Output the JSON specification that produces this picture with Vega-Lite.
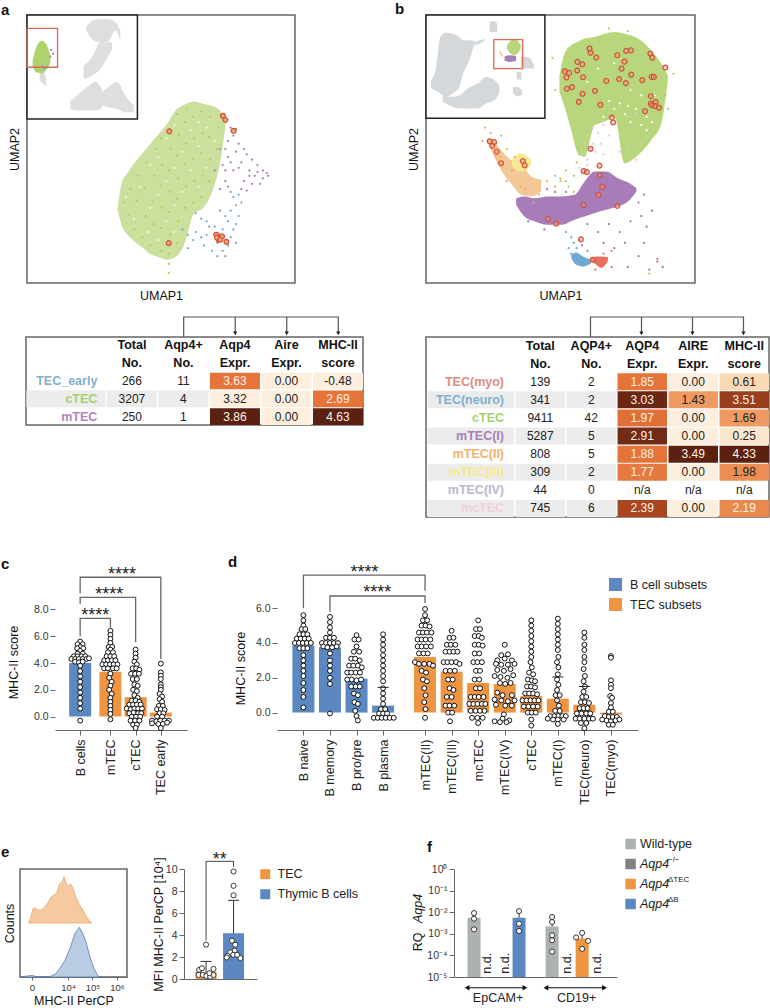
{"$schema":"https://vega.github.io/schema/vega-lite/v6.json","autosize":{"type":"none"},"padding":{"left":0,"top":15,"right":770,"bottom":993},"background":"white",
"config":{"font":"Liberation Sans","view":{"stroke":null},"axis":{"grid":false,"labelColor":"#333","titleColor":"#111","domainColor":"#666","tickColor":"#666","labelFontSize":10.5,"titleFontSize":12,"titleFontWeight":"normal"},"legend":{"labelColor":"#222","symbolStrokeWidth":0,"symbolOpacity":1}},
"datasets":{
"tA":[{"col":"Total","row":"h1","txt":"Total"},{"col":"Total","row":"h2","txt":"No."},{"col":"Pos","row":"h1","txt":"Aqp4+"},{"col":"Pos","row":"h2","txt":"No."},{"col":"Ex","row":"h1","txt":"Aqp4"},{"col":"Ex","row":"h2","txt":"Expr."},{"col":"Aire","row":"h1","txt":"Aire"},{"col":"Aire","row":"h2","txt":"Expr."},{"col":"MHC","row":"h1","txt":"MHC-II"},{"col":"MHC","row":"h2","txt":"score"},
{"col":"label","row":"TEC_early","txt":"TEC_early"},{"col":"Total","row":"TEC_early","txt":"266"},{"col":"Pos","row":"TEC_early","txt":"11"},{"col":"Ex","row":"TEC_early","txt":"3.63","lvl":0.5},{"col":"Aire","row":"TEC_early","txt":"0.00","lvl":0},{"col":"MHC","row":"TEC_early","txt":"-0.48","lvl":0},
{"col":"label","row":"cTEC","txt":"cTEC"},{"col":"Total","row":"cTEC","txt":"3207"},{"col":"Pos","row":"cTEC","txt":"4"},{"col":"Ex","row":"cTEC","txt":"3.32","lvl":0},{"col":"Aire","row":"cTEC","txt":"0.00","lvl":0},{"col":"MHC","row":"cTEC","txt":"2.69","lvl":0.5},
{"col":"label","row":"mTEC","txt":"mTEC"},{"col":"Total","row":"mTEC","txt":"250"},{"col":"Pos","row":"mTEC","txt":"1"},{"col":"Ex","row":"mTEC","txt":"3.86","lvl":1},{"col":"Aire","row":"mTEC","txt":"0.00","lvl":0},{"col":"MHC","row":"mTEC","txt":"4.63","lvl":1}],
"tB":[{"col":"Total","row":"h1","txt":"Total"},{"col":"Total","row":"h2","txt":"No."},{"col":"Pos","row":"h1","txt":"AQP4+"},{"col":"Pos","row":"h2","txt":"No."},{"col":"Ex","row":"h1","txt":"AQP4"},{"col":"Ex","row":"h2","txt":"Expr."},{"col":"Aire","row":"h1","txt":"AIRE"},{"col":"Aire","row":"h2","txt":"Expr."},{"col":"MHC","row":"h1","txt":"MHC-II"},{"col":"MHC","row":"h2","txt":"score"},
{"col":"label","row":"TEC(myo)","txt":"TEC(myo)"},{"col":"Total","row":"TEC(myo)","txt":"139"},{"col":"Pos","row":"TEC(myo)","txt":"2"},{"col":"Ex","row":"TEC(myo)","txt":"1.85","lvl":0.5},{"col":"Aire","row":"TEC(myo)","txt":"0.00","lvl":0},{"col":"MHC","row":"TEC(myo)","txt":"0.61","lvl":0.1},
{"col":"label","row":"TEC(neuro)","txt":"TEC(neuro)"},{"col":"Total","row":"TEC(neuro)","txt":"341"},{"col":"Pos","row":"TEC(neuro)","txt":"2"},{"col":"Ex","row":"TEC(neuro)","txt":"3.03","lvl":0.95},{"col":"Aire","row":"TEC(neuro)","txt":"1.43","lvl":0.35},{"col":"MHC","row":"TEC(neuro)","txt":"3.51","lvl":0.8},
{"col":"label","row":"cTEC","txt":"cTEC"},{"col":"Total","row":"cTEC","txt":"9411"},{"col":"Pos","row":"cTEC","txt":"42"},{"col":"Ex","row":"cTEC","txt":"1.97","lvl":0.52},{"col":"Aire","row":"cTEC","txt":"0.00","lvl":0},{"col":"MHC","row":"cTEC","txt":"1.69","lvl":0.35},
{"col":"label","row":"mTEC(I)","txt":"mTEC(I)"},{"col":"Total","row":"mTEC(I)","txt":"5287"},{"col":"Pos","row":"mTEC(I)","txt":"5"},{"col":"Ex","row":"mTEC(I)","txt":"2.91","lvl":0.92},{"col":"Aire","row":"mTEC(I)","txt":"0.00","lvl":0},{"col":"MHC","row":"mTEC(I)","txt":"0.25","lvl":0.04},
{"col":"label","row":"mTEC(II)","txt":"mTEC(II)"},{"col":"Total","row":"mTEC(II)","txt":"808"},{"col":"Pos","row":"mTEC(II)","txt":"5"},{"col":"Ex","row":"mTEC(II)","txt":"1.88","lvl":0.5},{"col":"Aire","row":"mTEC(II)","txt":"3.49","lvl":1},{"col":"MHC","row":"mTEC(II)","txt":"4.33","lvl":1},
{"col":"label","row":"mTEC(III)","txt":"mTEC(III)"},{"col":"Total","row":"mTEC(III)","txt":"309"},{"col":"Pos","row":"mTEC(III)","txt":"2"},{"col":"Ex","row":"mTEC(III)","txt":"1.77","lvl":0.48},{"col":"Aire","row":"mTEC(III)","txt":"0.00","lvl":0},{"col":"MHC","row":"mTEC(III)","txt":"1.98","lvl":0.4},
{"col":"label","row":"mTEC(IV)","txt":"mTEC(IV)"},{"col":"Total","row":"mTEC(IV)","txt":"44"},{"col":"Pos","row":"mTEC(IV)","txt":"0"},{"col":"Ex","row":"mTEC(IV)","txt":"n/a"},{"col":"Aire","row":"mTEC(IV)","txt":"n/a"},{"col":"MHC","row":"mTEC(IV)","txt":"n/a"},
{"col":"label","row":"mcTEC","txt":"mcTEC"},{"col":"Total","row":"mcTEC","txt":"745"},{"col":"Pos","row":"mcTEC","txt":"6"},{"col":"Ex","row":"mcTEC","txt":"2.39","lvl":0.75},{"col":"Aire","row":"mcTEC","txt":"0.00","lvl":0},{"col":"MHC","row":"mcTEC","txt":"2.19","lvl":0.42}],
"aArea":[{"x":33.8,"y":27.6,"y2":27.4},{"x":35.4,"y":37.6,"y2":21.4},{"x":37.3,"y":40.7,"y2":18.3},{"x":39.8,"y":44.4,"y2":15.8},{"x":42.9,"y":48.1,"y2":13.3},{"x":46,"y":51.9,"y2":10.8},{"x":49.1,"y":55.6,"y2":9.6},{"x":52.2,"y":59.3,"y2":8.7},{"x":55.3,"y":64.3,"y2":9.6},{"x":58.5,"y":66.4,"y2":13.9},{"x":62.2,"y":67.7,"y2":25.7},{"x":65.9,"y":66.8,"y2":28.2},{"x":69.7,"y":65.9,"y2":35.7},{"x":72.1,"y":64.3,"y2":45},{"x":74,"y":61.2,"y2":58.1}],
"aPts":[{"x":37,"y":32,"c":"gap"},{"x":40,"y":24,"c":"gap"},{"x":42,"y":36,"c":"gap"},{"x":45,"y":19,"c":"gap"},{"x":46,"y":28,"c":"gap"},{"x":46,"y":44,"c":"gap"},{"x":49,"y":16,"c":"gap"},{"x":49,"y":33,"c":"gap"},{"x":49,"y":47,"c":"gap"},{"x":52,"y":23,"c":"gap"},{"x":52,"y":38,"c":"gap"},{"x":52,"y":54,"c":"gap"},{"x":55,"y":19,"c":"gap"},{"x":55,"y":29,"c":"gap"},{"x":55,"y":43,"c":"gap"},{"x":55,"y":59,"c":"gap"},{"x":58,"y":34,"c":"gap"},{"x":58,"y":49,"c":"gap"},{"x":61,"y":42,"c":"gap"},{"x":61,"y":57,"c":"gap"},{"x":64,"y":36,"c":"gap"},{"x":64,"y":51,"c":"gap"},{"x":64,"y":60,"c":"gap"},{"x":67,"y":43,"c":"gap"},{"x":67,"y":58,"c":"gap"},{"x":70,"y":53,"c":"gap"},
{"x":36.4,"y":30,"c":"cTEC"},{"x":38,"y":25.5,"c":"cTEC"},{"x":38.6,"y":35,"c":"cTEC"},{"x":40,"y":20,"c":"cTEC"},{"x":41,"y":30.6,"c":"cTEC"},{"x":41.5,"y":40,"c":"cTEC"},{"x":43,"y":17,"c":"cTEC"},{"x":44.4,"y":25,"c":"cTEC"},{"x":44,"y":35.6,"c":"cTEC"},{"x":44.6,"y":45,"c":"cTEC"},{"x":46,"y":14,"c":"cTEC"},{"x":47.3,"y":22,"c":"cTEC"},{"x":47,"y":30.4,"c":"cTEC"},{"x":47.6,"y":40,"c":"cTEC"},{"x":48,"y":50,"c":"cTEC"},{"x":50.2,"y":12,"c":"cTEC"},{"x":50,"y":20.5,"c":"cTEC"},{"x":50.5,"y":28,"c":"cTEC"},{"x":50,"y":36.3,"c":"cTEC"},{"x":50.4,"y":44,"c":"cTEC"},{"x":50,"y":54,"c":"cTEC"},{"x":53,"y":11,"c":"cTEC"},{"x":53.4,"y":18,"c":"cTEC"},{"x":53,"y":26.5,"c":"cTEC"},{"x":53.5,"y":34,"c":"cTEC"},{"x":53,"y":42,"c":"cTEC"},{"x":53.6,"y":50,"c":"cTEC"},{"x":56,"y":15,"c":"cTEC"},{"x":56.5,"y":23,"c":"cTEC"},{"x":56,"y":31.4,"c":"cTEC"},{"x":56.4,"y":39,"c":"cTEC"},{"x":56,"y":47.5,"c":"cTEC"},{"x":56.6,"y":55,"c":"cTEC"},{"x":56,"y":63,"c":"cTEC"},{"x":59,"y":28,"c":"cTEC"},{"x":59.5,"y":36,"c":"cTEC"},{"x":59,"y":44.5,"c":"cTEC"},{"x":59.4,"y":52,"c":"cTEC"},{"x":59,"y":60,"c":"cTEC"},{"x":59.5,"y":65,"c":"cTEC"},{"x":62,"y":30,"c":"cTEC"},{"x":62.5,"y":38,"c":"cTEC"},{"x":62,"y":46.4,"c":"cTEC"},{"x":62.4,"y":54,"c":"cTEC"},{"x":62,"y":62,"c":"cTEC"},{"x":65,"y":32,"c":"cTEC"},{"x":65.5,"y":40,"c":"cTEC"},{"x":65,"y":48.5,"c":"cTEC"},{"x":65.4,"y":56,"c":"cTEC"},{"x":65,"y":64,"c":"cTEC"},{"x":68,"y":38,"c":"cTEC"},{"x":68.5,"y":46,"c":"cTEC"},{"x":68,"y":54.4,"c":"cTEC"},{"x":68.4,"y":62,"c":"cTEC"},{"x":71,"y":50,"c":"cTEC"},{"x":71.5,"y":58,"c":"cTEC"},{"x":52.9,"y":7.1,"c":"cTEC"},{"x":52.9,"y":3.7,"c":"cTEC"},
{"x":76,"y":58,"c":"mTEC"},{"x":78,"y":57.5,"c":"mTEC"},{"x":77,"y":55,"c":"mTEC"},{"x":75,"y":53,"c":"mTEC"},{"x":79,"y":52,"c":"mTEC"},{"x":81,"y":50,"c":"mTEC"},{"x":82,"y":48,"c":"mTEC"},{"x":78,"y":49,"c":"mTEC"},{"x":75,"y":47,"c":"mTEC"},{"x":73,"y":44,"c":"mTEC"},{"x":80,"y":45,"c":"mTEC"},{"x":84,"y":46,"c":"mTEC"},{"x":86,"y":44,"c":"mTEC"},{"x":88,"y":42,"c":"mTEC"},{"x":89.5,"y":41,"c":"mTEC"},{"x":90,"y":40,"c":"mTEC"},{"x":88,"y":39,"c":"mTEC"},{"x":85,"y":40,"c":"mTEC"},{"x":83,"y":42,"c":"mTEC"},{"x":79,"y":43,"c":"mTEC"},{"x":77,"y":42,"c":"mTEC"},{"x":81,"y":38,"c":"mTEC"},{"x":84,"y":37,"c":"mTEC"},{"x":87,"y":37,"c":"mTEC"},{"x":80,"y":35,"c":"mTEC"},{"x":82,"y":34.5,"c":"mTEC"},{"x":74,"y":42,"c":"mTEC"},{"x":74,"y":38,"c":"mTEC"},{"x":75,"y":36,"c":"mTEC"},{"x":70,"y":42,"c":"mTEC"},{"x":72,"y":35,"c":"mTEC"},{"x":86,"y":41.5,"c":"mTEC"},{"x":83,"y":40,"c":"mTEC"},{"x":72,"y":50,"c":"mTEC"},{"x":74,"y":50,"c":"mTEC"},{"x":76,"y":45,"c":"mTEC"},
{"x":58,"y":20,"c":"TEC_early"},{"x":60,"y":18,"c":"TEC_early"},{"x":62,"y":16,"c":"TEC_early"},{"x":63,"y":19,"c":"TEC_early"},{"x":65,"y":17,"c":"TEC_early"},{"x":66,"y":14,"c":"TEC_early"},{"x":67,"y":18,"c":"TEC_early"},{"x":68,"y":21,"c":"TEC_early"},{"x":71,"y":15,"c":"TEC_early"},{"x":72,"y":18,"c":"TEC_early"},{"x":73,"y":12,"c":"TEC_early"},{"x":75,"y":14,"c":"TEC_early"},{"x":76,"y":17,"c":"TEC_early"},{"x":77,"y":20,"c":"TEC_early"},{"x":78,"y":22,"c":"TEC_early"},{"x":79,"y":25,"c":"TEC_early"},{"x":76,"y":27,"c":"TEC_early"},{"x":74,"y":25,"c":"TEC_early"},{"x":72,"y":27,"c":"TEC_early"},{"x":78,"y":29,"c":"TEC_early"},{"x":80,"y":30,"c":"TEC_early"},{"x":77,"y":32,"c":"TEC_early"},{"x":76,"y":34,"c":"TEC_early"},{"x":79,"y":33,"c":"TEC_early"},{"x":65,"y":24,"c":"TEC_early"},{"x":63,"y":26,"c":"TEC_early"},{"x":70,"y":21,"c":"TEC_early"},{"x":71,"y":10,"c":"TEC_early"},{"x":74,"y":10,"c":"TEC_early"},{"x":69,"y":12,"c":"TEC_early"},{"x":60,"y":13,"c":"TEC_early"},{"x":67,"y":23,"c":"TEC_early"},{"x":73,"y":20,"c":"TEC_early"},{"x":75,"y":23,"c":"TEC_early"},{"x":78,"y":15,"c":"TEC_early"},
{"x":9,"y":87,"c":"mTEC"},{"x":9.8,"y":85.5,"c":"mTEC"},{"x":8.7,"y":84.5,"c":"mTEC"},{"x":6.5,"y":80,"c":"TEC_early"},{"x":7.5,"y":80.5,"c":"TEC_early"},{"x":5.8,"y":80.8,"c":"TEC_early"}],
"aRing":[{"x":73.1,"y":62.4},{"x":74,"y":60.9},{"x":77.1,"y":56.8},{"x":53.1,"y":56.6},{"x":52.9,"y":14.9},{"x":70.6,"y":18},{"x":71.5,"y":16.2},{"x":72.8,"y":17.4},{"x":74.4,"y":15.4},{"x":70.9,"y":16.9},{"x":72.1,"y":16.2}],
"aGray":[{"g":1,"x":22.1,"y":95.4,"y2":94.2},{"g":1,"x":24.3,"y":97.9,"y2":91},{"g":1,"x":27.4,"y":98.5,"y2":89.8},{"g":1,"x":29.9,"y":98.5,"y2":89.8},{"g":1,"x":33,"y":97.3,"y2":94.2},{"g":1,"x":34.8,"y":94.2,"y2":90.4},{"g":2,"x":21.1,"y":81.1,"y2":76.1},{"g":2,"x":24.3,"y":84.2,"y2":77.4},{"g":2,"x":27.4,"y":89.8,"y2":79.9},{"g":2,"x":31.7,"y":89.8,"y2":87.3},{"g":3,"x":16.2,"y":68,"y2":64.9},{"g":3,"x":18.7,"y":70,"y2":64.4},{"g":3,"x":22.4,"y":73.1,"y2":64.4},{"g":3,"x":25.5,"y":75,"y2":64.4},{"g":3,"x":28,"y":72.5,"y2":65.2},{"g":4,"x":28,"y":71.2,"y2":66.2},{"g":4,"x":31.1,"y":73.7,"y2":65.5},{"g":4,"x":33.6,"y":75,"y2":64.9},{"g":4,"x":36.7,"y":70,"y2":63.7},{"g":4,"x":39.8,"y":66.2,"y2":63.7},{"g":5,"x":4.7,"y":78,"y2":75.5},{"g":5,"x":6.2,"y":78.9,"y2":74.3},{"g":5,"x":7.2,"y":76,"y2":73.4}],
"aMini":[{"x":2.1,"y":83,"y2":80.5},{"x":3.7,"y":88.5,"y2":78.5},{"x":5.6,"y":90.4,"y2":78.2},{"x":7.5,"y":88.5,"y2":80},{"x":8.7,"y":85,"y2":82}],
"bArea":[{"c":"g","x":49.6,"y":77.5,"y2":71.3},{"c":"g","x":51.5,"y":85.6,"y2":65.8},{"c":"g","x":54,"y":88.7,"y2":57.1},{"c":"g","x":56.5,"y":90,"y2":48.4},{"c":"g","x":58.9,"y":91.2,"y2":47.1},{"c":"g","x":62.7,"y":91.8,"y2":58.9},{"c":"g","x":66.4,"y":93,"y2":60.2},{"c":"g","x":70.1,"y":93.7,"y2":62},{"c":"g","x":73.8,"y":93,"y2":44.7},{"c":"g","x":78.8,"y":91.2,"y2":47.8},{"c":"g","x":83.7,"y":86.8,"y2":53.3},{"c":"g","x":87.5,"y":81.9,"y2":59.6},{"c":"g","x":89.9,"y":77.5,"y2":75.7},
{"c":"o","x":23,"y":54,"y2":52.1},{"c":"o","x":25.4,"y":52.7,"y2":47.1},{"c":"o","x":27.9,"y":49.6,"y2":42.2},{"c":"o","x":31.6,"y":45.9,"y2":37.2},{"c":"o","x":35.4,"y":44.7,"y2":32.9},{"c":"o","x":39.1,"y":39.7,"y2":32.3},{"c":"o","x":42.8,"y":38.5,"y2":34.1},
{"c":"y","x":31.9,"y":45.9,"y2":44},{"c":"y","x":33.5,"y":47.8,"y2":42.2},{"c":"y","x":35.4,"y":48.4,"y2":41.6},{"c":"y","x":37.2,"y":47.8,"y2":42.2},{"c":"y","x":39.1,"y":45.9,"y2":44},
{"c":"p","x":33.5,"y":31.6,"y2":29.2},{"c":"p","x":36.6,"y":32.3,"y2":24.8},{"c":"p","x":40.3,"y":31.6,"y2":23},{"c":"p","x":45.3,"y":32.3,"y2":21.7},{"c":"p","x":50.2,"y":32.3,"y2":21.7},{"c":"p","x":55.2,"y":32.9,"y2":23.6},{"c":"p","x":58.9,"y":37.8,"y2":24.8},{"c":"p","x":62.7,"y":41.6,"y2":26.1},{"c":"p","x":67,"y":41.6,"y2":27.3},{"c":"p","x":71.3,"y":39.1,"y2":28.5},{"c":"p","x":75.7,"y":37.2,"y2":31},{"c":"p","x":78.2,"y":35.4,"y2":34.1},
{"c":"b","x":54,"y":10.5,"y2":9.3},{"c":"b","x":55.8,"y":11.4,"y2":6.8},{"c":"b","x":58.3,"y":9.9,"y2":6.2},{"c":"b","x":61.4,"y":8.7,"y2":7.4},
{"c":"r","x":61.4,"y":9.3,"y2":8.1},{"c":"r","x":63.3,"y":9.9,"y2":6.8},{"c":"r","x":65.1,"y":9.9,"y2":5.6},{"c":"r","x":67.6,"y":9.7,"y2":8.1}],
"bPts":[{"x":80,"y":59,"c":"gap"},{"x":82,"y":62,"c":"gap"},{"x":84,"y":60,"c":"gap"},{"x":78,"y":65,"c":"gap"},{"x":75,"y":66,"c":"gap"},{"x":72,"y":67,"c":"gap"},{"x":70,"y":65,"c":"gap"},{"x":66,"y":62,"c":"gap"},{"x":85,"y":70,"c":"gap"},{"x":80,"y":70,"c":"gap"},{"x":60,"y":75,"c":"gap"},{"x":70,"y":82,"c":"gap"},{"x":64,"y":80,"c":"gap"},{"x":76,"y":72,"c":"gap"},{"x":82,"y":57,"c":"gap"},{"x":76,"y":60,"c":"gap"},{"x":74,"y":63,"c":"gap"},{"x":68,"y":68,"c":"gap"},
{"x":60,"y":22,"c":"mTEC(I)"},{"x":64,"y":19,"c":"mTEC(I)"},{"x":68,"y":22,"c":"mTEC(I)"},{"x":72,"y":19,"c":"mTEC(I)"},{"x":76,"y":23,"c":"mTEC(I)"},{"x":80,"y":25,"c":"mTEC(I)"},{"x":82,"y":21,"c":"mTEC(I)"},{"x":84,"y":27,"c":"mTEC(I)"},{"x":81,"y":15,"c":"mTEC(I)"},{"x":79,"y":10,"c":"mTEC(I)"},{"x":74,"y":15,"c":"mTEC(I)"},{"x":70,"y":13,"c":"mTEC(I)"},{"x":66,"y":15,"c":"mTEC(I)"},{"x":75,"y":6,"c":"mTEC(I)"},{"x":83,"y":5,"c":"mTEC(I)"},{"x":86,"y":8,"c":"mTEC(I)"},{"x":88,"y":6,"c":"mTEC(I)"},{"x":58,"y":14,"c":"mTEC(I)"},{"x":60,"y":12,"c":"mTEC(I)"},{"x":45,"y":35,"c":"mTEC(I)"},{"x":48,"y":34,"c":"mTEC(I)"},{"x":52,"y":34,"c":"mTEC(I)"},{"x":38,"y":23,"c":"mTEC(I)"},{"x":44,"y":20,"c":"mTEC(I)"},{"x":79,"y":30,"c":"mTEC(I)"},{"x":81,"y":33,"c":"mTEC(I)"},
{"x":22,"y":58,"c":"mTEC(II)"},{"x":24,"y":56,"c":"mTEC(II)"},{"x":28,"y":55,"c":"mTEC(II)"},{"x":30,"y":50,"c":"mTEC(II)"},{"x":33,"y":47,"c":"mTEC(II)"},{"x":40,"y":30,"c":"mTEC(II)"},{"x":45,"y":38,"c":"mTEC(II)"},{"x":48,"y":36,"c":"mTEC(II)"},{"x":42,"y":33,"c":"mTEC(II)"},{"x":26,"y":47,"c":"mTEC(II)"},{"x":21,"y":53,"c":"mTEC(II)"},{"x":30,"y":38,"c":"mTEC(II)"},{"x":35,"y":36,"c":"mTEC(II)"},{"x":37,"y":35,"c":"mTEC(II)"},{"x":50,"y":38,"c":"mTEC(II)"},{"x":55,"y":34,"c":"mTEC(II)"},{"x":83,"y":3.5,"c":"mTEC(II)"},{"x":26,"y":52,"c":"mTEC(II)"},{"x":28,"y":47,"c":"mTEC(II)"},{"x":32,"y":42,"c":"mTEC(II)"},
{"x":52,"y":42,"c":"cTEC"},{"x":50,"y":39,"c":"cTEC"},{"x":53,"y":36,"c":"cTEC"},{"x":48,"y":40,"c":"cTEC"},{"x":56,"y":45,"c":"cTEC"},{"x":57,"y":48,"c":"cTEC"},{"x":55,"y":40,"c":"cTEC"},{"x":52,"y":38,"c":"cTEC"},{"x":47,"y":84,"c":"cTEC"},{"x":48,"y":72,"c":"cTEC"},{"x":92,"y":78,"c":"cTEC"},{"x":89,"y":70,"c":"cTEC"},{"x":90,"y":65,"c":"cTEC"},{"x":68,"y":95,"c":"cTEC"},{"x":75,"y":94,"c":"cTEC"},
{"x":60,"y":55,"c":"mcTEC"},{"x":62,"y":58,"c":"mcTEC"},{"x":64,"y":56,"c":"mcTEC"},{"x":66,"y":59,"c":"mcTEC"},{"x":58,"y":48,"c":"mcTEC"},{"x":60,"y":46,"c":"mcTEC"},{"x":62,"y":52,"c":"mcTEC"},{"x":57,"y":43,"c":"mcTEC"},{"x":59,"y":52,"c":"mcTEC"},{"x":60,"y":44,"c":"mcTEC"},{"x":65,"y":52,"c":"mcTEC"},{"x":68,"y":55,"c":"mcTEC"},{"x":75,"y":62,"c":"mcTEC"},{"x":78,"y":63,"c":"mcTEC"},{"x":72,"y":49,"c":"mcTEC"},{"x":75,"y":50,"c":"mcTEC"},{"x":80,"y":52,"c":"mcTEC"},{"x":78,"y":46,"c":"mcTEC"},{"x":63,"y":49,"c":"mcTEC"},{"x":66,"y":48,"c":"mcTEC"},
{"x":52,"y":19,"c":"TEC(neuro)"},{"x":54,"y":17,"c":"TEC(neuro)"},{"x":55,"y":15,"c":"TEC(neuro)"},{"x":53,"y":13,"c":"TEC(neuro)"},{"x":54,"y":11,"c":"TEC(neuro)"},{"x":57,"y":16,"c":"TEC(neuro)"},{"x":56,"y":13,"c":"TEC(neuro)"},{"x":66,"y":11,"c":"TEC(myo)"},{"x":69,"y":12,"c":"TEC(myo)"},{"x":63,"y":5,"c":"TEC(myo)"},{"x":69,"y":6,"c":"TEC(myo)"},{"x":86,"y":9,"c":"TEC(myo)"}],
"bRing":[{"x":60.8,"y":87.5},{"x":61.2,"y":85.9},{"x":63.3,"y":84.1},{"x":71.1,"y":85},{"x":74.4,"y":86.6},{"x":76.2,"y":86.8},{"x":83.4,"y":85.6},{"x":84.1,"y":84.1},{"x":89,"y":80.4},{"x":56.3,"y":82.5},{"x":58.1,"y":81.6},{"x":73.8,"y":82.6},{"x":72.7,"y":80},{"x":56.2,"y":79.3},{"x":51.6,"y":79},{"x":53.2,"y":78.4},{"x":52.2,"y":76.7},{"x":58.4,"y":76.8},{"x":67,"y":75.4},{"x":71.8,"y":76.1},{"x":74.3,"y":74.6},{"x":76.3,"y":77.8},{"x":80.4,"y":75.7},{"x":83.9,"y":76.9},{"x":84.7,"y":76.9},{"x":52.4,"y":72.5},{"x":54.3,"y":73.1},{"x":58.2,"y":70.6},{"x":62.8,"y":71.7},{"x":56.8,"y":67.6},{"x":64.8,"y":66.5},{"x":83.6,"y":69.7},{"x":83.6,"y":67},{"x":85.4,"y":67.5},{"x":84,"y":66.3},{"x":85.2,"y":66},{"x":86.6,"y":65.4},{"x":81.4,"y":64.1},{"x":69.1,"y":61.7},{"x":69.6,"y":59.9},{"x":61.2,"y":50.1},{"x":23.7,"y":52.9},{"x":25.3,"y":52.6},{"x":24.6,"y":51.2},{"x":26.3,"y":49},{"x":27.9,"y":44.7},{"x":36,"y":45.5},{"x":36.7,"y":43.9},{"x":58.6,"y":41.8},{"x":59.8,"y":41.4},{"x":64.5,"y":43.8},{"x":64.6,"y":40.2},{"x":65.5,"y":35.9},{"x":64.1,"y":32.8},{"x":58.6,"y":29.2},{"x":71.1,"y":28.8},{"x":45.3,"y":23.9},{"x":48.4,"y":22.2},{"x":57.6,"y":16.3},{"x":62,"y":8.7}],
"bGray":[{"g":1,"x":1.9,"y":75.7,"y2":72.6},{"g":1,"x":3.7,"y":80,"y2":71.7},{"g":1,"x":5.3,"y":91.8,"y2":70.7},{"g":1,"x":7.4,"y":93.4,"y2":69.5},{"g":1,"x":9.9,"y":93.1,"y2":70.7},{"g":1,"x":12.4,"y":91.8,"y2":73},{"g":1,"x":13.6,"y":90.6,"y2":77.5},{"g":1,"x":16.1,"y":90.6,"y2":83.1},{"g":1,"x":18,"y":90.3,"y2":89.3},{"g":2,"x":6.2,"y":70.1,"y2":67.6},{"g":2,"x":9.3,"y":69.5,"y2":66},{"g":2,"x":12.4,"y":70.1,"y2":65.1},{"g":2,"x":15.5,"y":72.6,"y2":65.1},{"g":2,"x":19.2,"y":74.4,"y2":65.1},{"g":2,"x":22.3,"y":76.9,"y2":67},{"g":2,"x":25.4,"y":75.7,"y2":68.2},{"g":2,"x":27.3,"y":73.8,"y2":70.7},{"g":3,"x":23.6,"y":97.4,"y2":93.7},{"g":3,"x":25.4,"y":97.8,"y2":93.7},{"g":3,"x":26.4,"y":96.8,"y2":93.7},{"g":4,"x":35.4,"y":84.4,"y2":80},{"g":4,"x":37.8,"y":84.4,"y2":80},{"g":4,"x":40.1,"y":81.3,"y2":80},{"g":5,"x":33.7,"y":78.8,"y2":75.9},{"g":5,"x":35.5,"y":78.8,"y2":75.9},{"g":6,"x":32.3,"y":73,"y2":70.7},{"g":6,"x":34.1,"y":73.2,"y2":69.6},{"g":6,"x":35.7,"y":71.7,"y2":70.2},{"g":7,"x":18,"y":89.9,"y2":88.7},{"g":7,"x":19.9,"y":90.5,"y2":89.3},{"g":7,"x":21.7,"y":91.1,"y2":90.2}],
"bMini":[{"c":"g","x":30.1,"y":88.5,"y2":87.5},{"c":"g","x":31.5,"y":90.5,"y2":85.5},{"c":"g","x":32.7,"y":90.8,"y2":85},{"c":"g","x":33.9,"y":90.5,"y2":85.5},{"c":"g","x":35.2,"y":88.5,"y2":87.5},{"c":"p","x":29.2,"y":84.5,"y2":83},{"c":"p","x":31,"y":85,"y2":82.5},{"c":"p","x":33.5,"y":84.7,"y2":82.8},{"c":"o","x":27.3,"y":87,"y2":86},{"c":"o","x":28.5,"y":85,"y2":84}],
"sC":[{"x":1,"y":5.6},{"x":0.9,"y":5.4},{"x":1.1,"y":5.4},{"x":1,"y":5.2},{"x":0.88,"y":5.1},{"x":1.12,"y":5.1},{"x":1,"y":4.9},{"x":0.9,"y":4.7},{"x":1.1,"y":4.7},{"x":0.75,"y":4.5},{"x":0.9,"y":4.5},{"x":1.05,"y":4.5},{"x":1.2,"y":4.5},{"x":0.65,"y":4.3},{"x":0.8,"y":4.3},{"x":0.95,"y":4.3},{"x":1.1,"y":4.3},{"x":1.25,"y":4.3},{"x":1.35,"y":4.35},{"x":0.8,"y":4.1},{"x":0.95,"y":4.05},{"x":1.1,"y":4.1},{"x":1,"y":3.8},{"x":1,"y":3.4},{"x":1,"y":3},{"x":1,"y":2.6},{"x":1,"y":2.2},{"x":1,"y":1.8},{"x":1,"y":1.4},{"x":1,"y":1},{"x":1,"y":0.6},{"x":1,"y":-0.3},
{"x":2.2,"y":6.4},{"x":2.2,"y":6.1},{"x":2.2,"y":5.8},{"x":2.2,"y":5.5},{"x":2.13,"y":5.2},{"x":2.27,"y":5.2},{"x":2.2,"y":5},{"x":2.1,"y":4.8},{"x":2.3,"y":4.8},{"x":2.05,"y":4.5},{"x":2.2,"y":4.5},{"x":2.35,"y":4.5},{"x":1.95,"y":4.2},{"x":2.1,"y":4.2},{"x":2.25,"y":4.2},{"x":2.4,"y":4.2},{"x":1.88,"y":3.9},{"x":2.03,"y":3.9},{"x":2.18,"y":3.9},{"x":2.33,"y":3.9},{"x":2.48,"y":3.9},{"x":1.95,"y":3.6},{"x":2.1,"y":3.6},{"x":2.3,"y":3.6},{"x":2.45,"y":3.6},{"x":2.2,"y":3.2},{"x":2.15,"y":2.9},{"x":2.25,"y":2.6},{"x":2.2,"y":2.3},{"x":2.15,"y":2},{"x":2.25,"y":1.7},{"x":2.2,"y":1.4},{"x":2.2,"y":1.1},{"x":2.2,"y":0.8},{"x":2.2,"y":0.5},{"x":2.2,"y":0.2},{"x":2.2,"y":-0.2},
{"x":3.2,"y":5},{"x":3.2,"y":4.7},{"x":3.2,"y":4.4},{"x":3.15,"y":4.1},{"x":3.25,"y":3.9},{"x":3.08,"y":3.6},{"x":3.22,"y":3.6},{"x":3.35,"y":3.5},{"x":3.02,"y":3.2},{"x":3.18,"y":3.2},{"x":3.33,"y":3.2},{"x":3.08,"y":2.8},{"x":3.25,"y":2.8},{"x":3.15,"y":2.4},{"x":3.28,"y":2.3},{"x":3.1,"y":2},{"x":3.25,"y":1.9},{"x":3.15,"y":1.6},{"x":3.28,"y":1.4},{"x":3.05,"y":1.2},{"x":3.2,"y":1.2},{"x":3.35,"y":1.1},{"x":2.95,"y":0.9},{"x":3.1,"y":0.9},{"x":3.25,"y":0.9},{"x":3.4,"y":0.9},{"x":2.85,"y":0.6},{"x":3,"y":0.55},{"x":3.15,"y":0.6},{"x":3.3,"y":0.6},{"x":3.45,"y":0.6},{"x":2.95,"y":0.25},{"x":3.12,"y":0.3},{"x":3.3,"y":0.25},{"x":3.42,"y":0.25},{"x":3.05,"y":0},{"x":3.22,"y":0},{"x":3.38,"y":0},{"x":3,"y":-0.3},{"x":3.18,"y":-0.3},{"x":3.35,"y":-0.3},{"x":3.1,"y":-0.6},{"x":3.25,"y":-0.6},{"x":3.2,"y":-0.85},
{"x":4.2,"y":3.95},{"x":4.2,"y":3.3},{"x":4.2,"y":3.05},{"x":4.2,"y":2.8},{"x":4.2,"y":2.4},{"x":4.2,"y":2.2},{"x":4.2,"y":2},{"x":4.15,"y":1.7},{"x":4.25,"y":1.5},{"x":4.15,"y":1.3},{"x":4.25,"y":1.1},{"x":4.12,"y":0.8},{"x":4.28,"y":0.8},{"x":4.05,"y":0.55},{"x":4.2,"y":0.55},{"x":4.35,"y":0.5},{"x":4.15,"y":0.25},{"x":4.3,"y":0.25},{"x":4.05,"y":0},{"x":4.25,"y":0},{"x":3.85,"y":-0.3},{"x":4.02,"y":-0.35},{"x":4.18,"y":-0.3},{"x":4.35,"y":-0.3},{"x":4.52,"y":-0.3},{"x":3.85,"y":-0.5},{"x":4.1,"y":-0.55},{"x":4.28,"y":-0.55},{"x":4.45,"y":-0.45},{"x":4.2,"y":-0.85}],
"sD":[{"x":1,"y":5.6},{"x":1,"y":5.3},{"x":1,"y":5},{"x":0.93,"y":4.8},{"x":1.07,"y":4.8},{"x":0.85,"y":4.5},{"x":1,"y":4.5},{"x":1.15,"y":4.5},{"x":0.75,"y":4.25},{"x":0.9,"y":4.25},{"x":1.05,"y":4.25},{"x":1.2,"y":4.25},{"x":0.68,"y":4},{"x":0.83,"y":4},{"x":0.98,"y":4},{"x":1.13,"y":4},{"x":1.28,"y":4},{"x":0.85,"y":3.7},{"x":1,"y":3.7},{"x":1.15,"y":3.7},{"x":1,"y":3.3},{"x":1,"y":3},{"x":1,"y":2.7},{"x":1,"y":2.4},{"x":1,"y":2.1},{"x":1,"y":1.7},{"x":1,"y":1.3},{"x":1,"y":0.9},{"x":1,"y":0.3},
{"x":2,"y":5.5},{"x":2,"y":5.2},{"x":2,"y":4.9},{"x":2,"y":4.6},{"x":1.85,"y":4.3},{"x":2,"y":4.3},{"x":2.15,"y":4.3},{"x":1.7,"y":4},{"x":1.85,"y":4},{"x":2,"y":4},{"x":2.15,"y":4},{"x":2.3,"y":4},{"x":1.75,"y":3.8},{"x":1.9,"y":3.75},{"x":2.08,"y":3.75},{"x":2.25,"y":3.8},{"x":2,"y":3.4},{"x":2,"y":3},{"x":2,"y":2.7},{"x":2,"y":2.4},{"x":2,"y":2},{"x":2,"y":1.65},{"x":2,"y":-0.05},
{"x":3,"y":4.45},{"x":2.92,"y":4.2},{"x":3.08,"y":4.2},{"x":3,"y":3.8},{"x":2.9,"y":3.5},{"x":3.1,"y":3.5},{"x":2.8,"y":3.1},{"x":2.95,"y":3.1},{"x":3.12,"y":3},{"x":2.72,"y":2.7},{"x":2.88,"y":2.7},{"x":3.05,"y":2.7},{"x":3.2,"y":2.6},{"x":2.65,"y":2.3},{"x":2.8,"y":2.3},{"x":2.97,"y":2.3},{"x":3.13,"y":2.3},{"x":2.65,"y":1.9},{"x":2.82,"y":1.9},{"x":3,"y":1.85},{"x":3.17,"y":1.9},{"x":2.8,"y":1.5},{"x":2.97,"y":1.5},{"x":3.12,"y":1.5},{"x":2.9,"y":1.1},{"x":3.05,"y":1},{"x":2.92,"y":0.6},{"x":3.05,"y":0.5},{"x":2.95,"y":0.1},{"x":3,"y":-0.2},{"x":3.05,"y":-0.45},
{"x":4,"y":4.5},{"x":4,"y":4.2},{"x":4,"y":3.9},{"x":4,"y":3.6},{"x":4,"y":3.3},{"x":4,"y":3},{"x":4,"y":2.7},{"x":4,"y":2.4},{"x":4,"y":2.1},{"x":4,"y":1.8},{"x":4,"y":1.4},{"x":4,"y":1.1},{"x":4,"y":0.8},{"x":4,"y":0.5},{"x":3.92,"y":0.2},{"x":4.08,"y":0.2},{"x":3.85,"y":-0.05},{"x":4,"y":-0.05},{"x":4.15,"y":-0.05},{"x":3.65,"y":-0.3},{"x":3.8,"y":-0.3},{"x":3.95,"y":-0.3},{"x":4.1,"y":-0.3},{"x":4.25,"y":-0.3},{"x":4.4,"y":-0.3},
{"x":5.58,"y":5.95},{"x":5.58,"y":5.6},{"x":5.5,"y":5.3},{"x":5.66,"y":5.3},{"x":5.45,"y":5},{"x":5.6,"y":5},{"x":5.75,"y":4.95},{"x":5.35,"y":4.6},{"x":5.5,"y":4.6},{"x":5.65,"y":4.6},{"x":5.82,"y":4.6},{"x":5.3,"y":4.2},{"x":5.45,"y":4.2},{"x":5.6,"y":4.2},{"x":5.78,"y":4.2},{"x":5.3,"y":3.8},{"x":5.45,"y":3.8},{"x":5.62,"y":3.8},{"x":5.8,"y":3.8},{"x":5.35,"y":3.4},{"x":5.52,"y":3.4},{"x":5.68,"y":3.4},{"x":5.2,"y":2.9},{"x":5.35,"y":2.8},{"x":5.55,"y":2.8},{"x":5.75,"y":2.8},{"x":5.88,"y":2.7},{"x":5.45,"y":2.4},{"x":5.62,"y":2.3},{"x":5.5,"y":1.9},{"x":5.65,"y":1.8},{"x":5.55,"y":1.4},{"x":5.6,"y":1},{"x":5.55,"y":0.6},{"x":5.6,"y":0.2},{"x":5.58,"y":-0.3},
{"x":6.58,"y":4.7},{"x":6.5,"y":4.3},{"x":6.65,"y":4.3},{"x":6.4,"y":3.9},{"x":6.55,"y":3.9},{"x":6.72,"y":3.9},{"x":6.35,"y":3.5},{"x":6.5,"y":3.5},{"x":6.65,"y":3.5},{"x":6.8,"y":3.5},{"x":6.28,"y":2.9},{"x":6.42,"y":2.9},{"x":6.58,"y":2.9},{"x":6.75,"y":2.9},{"x":6.88,"y":2.8},{"x":6.35,"y":2.4},{"x":6.52,"y":2.4},{"x":6.7,"y":2.4},{"x":6.45,"y":1.9},{"x":6.62,"y":1.9},{"x":6.5,"y":1.4},{"x":6.65,"y":1.3},{"x":6.4,"y":0.9},{"x":6.58,"y":0.9},{"x":6.35,"y":0.4},{"x":6.5,"y":0.4},{"x":6.68,"y":0.4},{"x":6.45,"y":0},{"x":6.6,"y":0},{"x":6.52,"y":-0.5},
{"x":7.58,"y":5.3},{"x":7.5,"y":4.8},{"x":7.65,"y":4.8},{"x":7.45,"y":4.4},{"x":7.6,"y":4.4},{"x":7.72,"y":4.3},{"x":7.45,"y":3.9},{"x":7.6,"y":3.9},{"x":7.75,"y":3.85},{"x":7.45,"y":3.4},{"x":7.62,"y":3.4},{"x":7.4,"y":2.9},{"x":7.55,"y":2.9},{"x":7.72,"y":2.9},{"x":7.5,"y":2.4},{"x":7.65,"y":2.4},{"x":7.45,"y":1.9},{"x":7.62,"y":1.9},{"x":7.5,"y":1.4},{"x":7.65,"y":1.4},{"x":7.3,"y":0.9},{"x":7.45,"y":0.9},{"x":7.6,"y":0.9},{"x":7.78,"y":0.9},{"x":7.25,"y":0.5},{"x":7.4,"y":0.5},{"x":7.55,"y":0.5},{"x":7.72,"y":0.5},{"x":7.85,"y":0.5},{"x":7.3,"y":0.1},{"x":7.48,"y":0.1},{"x":7.65,"y":0.1},{"x":7.82,"y":0.1},{"x":7.35,"y":-0.3},{"x":7.55,"y":-0.3},{"x":7.75,"y":-0.3},{"x":7.58,"y":-0.6},
{"x":8.58,"y":3.9},{"x":8.45,"y":3.3},{"x":8.7,"y":3.35},{"x":8.3,"y":3},{"x":8.58,"y":3.1},{"x":8.85,"y":3},{"x":8.25,"y":2.8},{"x":8.45,"y":2.75},{"x":8.7,"y":2.75},{"x":8.95,"y":2.8},{"x":8.3,"y":2.45},{"x":8.55,"y":2.4},{"x":8.8,"y":2.5},{"x":8.2,"y":2.1},{"x":8.42,"y":2.05},{"x":8.68,"y":2},{"x":8.9,"y":2.15},{"x":8.4,"y":1.7},{"x":8.6,"y":1.65},{"x":8.8,"y":1.7},{"x":8.3,"y":1.15},{"x":8.5,"y":1},{"x":8.85,"y":1},{"x":8.2,"y":0.75},{"x":8.45,"y":0.7},{"x":8.7,"y":0.65},{"x":8.95,"y":0.7},{"x":8.25,"y":0.45},{"x":8.6,"y":0.4},{"x":8.85,"y":0.4},{"x":8.55,"y":-0.1},{"x":8.5,"y":-0.35},{"x":8.75,"y":-0.45},{"x":8.2,"y":-0.5},{"x":8.4,"y":-0.55},{"x":8.65,"y":-0.55},
{"x":9.58,"y":5.3},{"x":9.58,"y":5},{"x":9.58,"y":4.7},{"x":9.58,"y":4.4},{"x":9.58,"y":4.1},{"x":9.58,"y":3.8},{"x":9.58,"y":3.5},{"x":9.58,"y":3.2},{"x":9.55,"y":2.9},{"x":9.6,"y":2.6},{"x":9.5,"y":2.3},{"x":9.65,"y":2.2},{"x":9.45,"y":1.9},{"x":9.6,"y":1.85},{"x":9.72,"y":1.8},{"x":9.42,"y":1.5},{"x":9.57,"y":1.5},{"x":9.72,"y":1.45},{"x":9.35,"y":1.1},{"x":9.5,"y":1.1},{"x":9.65,"y":1.1},{"x":9.8,"y":1.05},{"x":9.25,"y":0.7},{"x":9.4,"y":0.7},{"x":9.55,"y":0.7},{"x":9.7,"y":0.7},{"x":9.85,"y":0.7},{"x":9.3,"y":0.35},{"x":9.47,"y":0.35},{"x":9.65,"y":0.35},{"x":9.82,"y":0.35},{"x":9.45,"y":0},{"x":9.6,"y":0},{"x":9.75,"y":0},{"x":9.58,"y":-0.4},{"x":9.58,"y":-0.75},
{"x":10.58,"y":5.4},{"x":10.58,"y":5.1},{"x":10.58,"y":4.8},{"x":10.58,"y":4.5},{"x":10.58,"y":4.2},{"x":10.58,"y":3.9},{"x":10.58,"y":3.6},{"x":10.6,"y":3.2},{"x":10.55,"y":2.9},{"x":10.6,"y":2.6},{"x":10.58,"y":2.2},{"x":10.55,"y":1.9},{"x":10.6,"y":1.6},{"x":10.55,"y":1.3},{"x":10.5,"y":1},{"x":10.65,"y":1},{"x":10.55,"y":0.7},{"x":10.62,"y":0.4},{"x":10.48,"y":0.1},{"x":10.65,"y":0.1},{"x":10.3,"y":-0.2},{"x":10.45,"y":-0.2},{"x":10.6,"y":-0.2},{"x":10.75,"y":-0.2},{"x":10.88,"y":-0.2},{"x":10.2,"y":-0.35},{"x":10.4,"y":-0.4},{"x":10.58,"y":-0.4},{"x":10.8,"y":-0.4},{"x":10.58,"y":-0.65},
{"x":11.58,"y":4.6},{"x":11.58,"y":4.3},{"x":11.58,"y":3.9},{"x":11.58,"y":3.6},{"x":11.58,"y":3.2},{"x":11.58,"y":2.9},{"x":11.55,"y":2.5},{"x":11.6,"y":2.1},{"x":11.55,"y":1.8},{"x":11.6,"y":1.5},{"x":11.55,"y":1.2},{"x":11.5,"y":0.9},{"x":11.65,"y":0.9},{"x":11.45,"y":0.6},{"x":11.6,"y":0.6},{"x":11.75,"y":0.55},{"x":11.4,"y":0.25},{"x":11.55,"y":0.25},{"x":11.7,"y":0.25},{"x":11.3,"y":-0.05},{"x":11.47,"y":-0.05},{"x":11.65,"y":-0.05},{"x":11.8,"y":-0.05},{"x":11.25,"y":-0.35},{"x":11.4,"y":-0.35},{"x":11.58,"y":-0.35},{"x":11.75,"y":-0.35},{"x":11.9,"y":-0.35},{"x":11.45,"y":-0.6},{"x":11.65,"y":-0.6},{"x":11.58,"y":-0.9},
{"x":12.58,"y":3.25},{"x":12.58,"y":3.15},{"x":12.58,"y":1.85},{"x":12.58,"y":1.6},{"x":12.58,"y":1.4},{"x":12.55,"y":0.95},{"x":12.62,"y":0.85},{"x":12.58,"y":0.55},{"x":12.58,"y":0.3},{"x":12.5,"y":0.05},{"x":12.65,"y":0.05},{"x":12.35,"y":-0.2},{"x":12.5,"y":-0.25},{"x":12.65,"y":-0.25},{"x":12.8,"y":-0.25},{"x":12.25,"y":-0.4},{"x":12.42,"y":-0.45},{"x":12.58,"y":-0.5},{"x":12.75,"y":-0.45},{"x":12.9,"y":-0.4},{"x":12.5,"y":-0.7},{"x":12.65,"y":-0.7}]
},
"bounds":"flush","spacing":0,"resolve":{"scale":{"color":"independent","fill":"independent"}},
"vconcat":[
{"bounds":"flush","spacing":0,"resolve":{"scale":{"color":"independent","fill":"independent"}},"hconcat":[
{"data":{"values":[]},"mark":"text","width":27,"height":0},
{"width":268,"height":268,"view":{"stroke":"#666","strokeWidth":1.5},"title":{"text":"a","anchor":"start","frame":"group","fontSize":15,"fontWeight":"bold","color":"#111","dx":-26,"dy":8},
"encoding":{"x":{"field":"x","type":"quantitative","scale":{"domain":[0,100]},"axis":{"title":"UMAP1","labels":false,"ticks":false,"domain":false,"titleFontSize":12.5,"titlePadding":6}},"y":{"field":"y","type":"quantitative","scale":{"domain":[0,100]},"axis":{"title":"UMAP2","labels":false,"ticks":false,"domain":false,"titleFontSize":12.5,"titlePadding":6}}},
"layer":[
{"data":{"name":"aArea"},"mark":{"type":"area","color":"#cbe09c","interpolate":"monotone"},"encoding":{"y2":{"field":"y2"}}},
{"data":{"values":[{"x":0,"x2":41.2,"y":100,"y2":61.2}]},"mark":{"type":"rect","fill":"white","stroke":"#222","strokeWidth":1.5},"encoding":{"x2":{"field":"x2"},"y2":{"field":"y2"}}},
{"data":{"name":"aGray"},"mark":{"type":"area","color":"#dcdee0","interpolate":"monotone"},"encoding":{"y2":{"field":"y2"},"detail":{"field":"g"}}},
{"data":{"name":"aMini"},"mark":{"type":"area","color":"#aed26c","interpolate":"monotone"},"encoding":{"y2":{"field":"y2"}}},
{"data":{"name":"aPts"},"mark":{"type":"circle","size":5,"opacity":1},"encoding":{"color":{"field":"c","type":"nominal","scale":{"domain":["gap","cTEC","mTEC","TEC_early"],"range":["#f4f8e6","#a6cf62","#ab7dbb","#6fa7d2"]},"legend":null}}},
{"data":{"name":"aRing"},"mark":{"type":"circle","size":24,"fill":"#e8a870","stroke":"#d4503a","strokeWidth":1.2,"opacity":1}},
{"data":{"values":[{"x":0,"x2":11.4,"y":95,"y2":80.5}]},"mark":{"type":"rect","fill":null,"stroke":"#d96b52","strokeWidth":1.3},"encoding":{"x2":{"field":"x2"},"y2":{"field":"y2"}}}
]},
{"data":{"values":[]},"mark":"text","width":131,"height":0},
{"width":269,"height":268,"view":{"stroke":"#666","strokeWidth":1.5},"title":{"text":"b","anchor":"start","frame":"group","fontSize":15,"fontWeight":"bold","color":"#111","dx":-31,"dy":7},
"encoding":{"x":{"field":"x","type":"quantitative","scale":{"domain":[0,100]},"axis":{"title":"UMAP1","labels":false,"ticks":false,"domain":false,"titleFontSize":12.5,"titlePadding":6}},"y":{"field":"y","type":"quantitative","scale":{"domain":[0,100]},"axis":{"title":"UMAP2","labels":false,"ticks":false,"domain":false,"titleFontSize":12.5,"titlePadding":6}}},
"layer":[
{"data":{"name":"bArea"},"mark":{"type":"area","interpolate":"monotone"},"encoding":{"y2":{"field":"y2"},"detail":{"field":"c"},"fill":{"field":"c","type":"nominal","scale":{"domain":["g","o","y","p","b","r"],"range":["#b8d67c","#f4c796","#f8ea94","#a87cb8","#6fa8d0","#e8705c"]},"legend":null}}},
{"data":{"values":[{"x":0,"x2":44.2,"y":100,"y2":61.5}]},"mark":{"type":"rect","fill":"white","stroke":"#222","strokeWidth":1.5},"encoding":{"x2":{"field":"x2"},"y2":{"field":"y2"}}},
{"data":{"name":"bGray"},"mark":{"type":"area","color":"#d5d8da","interpolate":"monotone"},"encoding":{"y2":{"field":"y2"},"detail":{"field":"g"}}},
{"data":{"name":"bMini"},"mark":{"type":"area","interpolate":"monotone"},"encoding":{"y2":{"field":"y2"},"detail":{"field":"c"},"fill":{"field":"c","type":"nominal","scale":{"domain":["g","o","y","p","b","r"],"range":["#b8d67c","#f4c796","#f8ea94","#a87cb8","#6fa8d0","#e8705c"]},"legend":null}}},
{"data":{"name":"bPts"},"mark":{"type":"circle","size":5,"opacity":1},"encoding":{"color":{"field":"c","type":"nominal","scale":{"domain":["gap","cTEC","mTEC(I)","mTEC(II)","mcTEC","TEC(neuro)","TEC(myo)"],"range":["#ffffff","#a8d068","#a075b0","#f0a860","#e6c6dc","#6fa8d0","#e8705c"]},"legend":null}}},
{"data":{"name":"bRing"},"mark":{"type":"circle","size":24,"fill":"#dfa07a","fillOpacity":0.5,"stroke":"#d4503a","strokeWidth":1.2,"opacity":1}},
{"data":{"values":[{"x":25.2,"x2":35.9,"y":90.8,"y2":80}]},"mark":{"type":"rect","fill":null,"stroke":"#d96b52","strokeWidth":1.3},"encoding":{"x2":{"field":"x2"},"y2":{"field":"y2"}}}
]}
]},
{"data":{"values":[]},"mark":"text","width":0,"height":302},
{"bounds":"flush","spacing":0,"hconcat":[
{"data":{"values":[]},"mark":"text","width":26,"height":0},
{"width":337,"height":20,"encoding":{"x":{"field":"x","type":"quantitative","scale":{"domain":[-0.06,6.48]},"axis":null},"y":{"field":"y","type":"quantitative","scale":{"domain":[0,1]},"axis":null}},"layer":[
{"data":{"values":[{"id":1,"x":3,"y":0},{"id":1,"x":3,"y":1},{"id":1,"x":6,"y":1},{"id":1,"x":6,"y":0.2},{"id":2,"x":4,"y":1},{"id":2,"x":4,"y":0.2},{"id":3,"x":5,"y":1},{"id":3,"x":5,"y":0.2}]},"mark":{"type":"line","color":"#555","strokeWidth":1.2},"encoding":{"detail":{"field":"id"},"order":{"value":null}}},
{"data":{"values":[{"x":4,"y":0.18},{"x":5,"y":0.18},{"x":6,"y":0.18}]},"mark":{"type":"point","shape":"triangle-down","filled":true,"size":18,"color":"#222","opacity":1}}
]},
{"data":{"values":[]},"mark":"text","width":63,"height":0},
{"width":343,"height":20,"encoding":{"x":{"field":"x","type":"quantitative","scale":{"domain":[-0.225,6.5]},"axis":null},"y":{"field":"y","type":"quantitative","scale":{"domain":[0,1]},"axis":null}},"layer":[
{"data":{"values":[{"id":1,"x":3,"y":0},{"id":1,"x":3,"y":1},{"id":1,"x":6,"y":1},{"id":1,"x":6,"y":0.2},{"id":2,"x":4,"y":1},{"id":2,"x":4,"y":0.2},{"id":3,"x":5,"y":1},{"id":3,"x":5,"y":0.2}]},"mark":{"type":"line","color":"#555","strokeWidth":1.2},"encoding":{"detail":{"field":"id"},"order":{"value":null}}},
{"data":{"values":[{"x":4,"y":0.18},{"x":5,"y":0.18},{"x":6,"y":0.18}]},"mark":{"type":"point","shape":"triangle-down","filled":true,"size":18,"color":"#222","opacity":1}}
]}
]},
{"data":{"values":[]},"mark":"text","width":0,"height":20},
{"bounds":"flush","spacing":0,"resolve":{"scale":{"color":"independent","fill":"independent"}},"hconcat":[
{"data":{"values":[]},"mark":"text","width":26,"height":0},
{"width":337,"height":88,"view":{"stroke":"#666","strokeWidth":1.5},"data":{"name":"tA"},"encoding":{"x":{"field":"col","type":"nominal","scale":{"domain":["label","Total","Pos","Ex","Aire","MHC"],"paddingInner":0.03,"paddingOuter":0.285,"align":1},"axis":null},"y":{"field":"row","type":"nominal","scale":{"domain":["h1","h2","TEC_early","cTEC","mTEC"],"paddingInner":0.06,"paddingOuter":0},"axis":null}},
"layer":[
{"transform":[{"filter":"datum.row=='cTEC'&&datum.col=='label'"}],"mark":{"type":"rect","color":"#ececec","xOffset":-29}},
{"transform":[{"filter":"datum.row=='cTEC'&&!isValid(datum.lvl)"}],"mark":{"type":"rect","color":"#ececec"}},
{"transform":[{"filter":"isValid(datum.lvl)"}],"mark":"rect","encoding":{"fill":{"field":"lvl","type":"quantitative","scale":{"domain":[0,0.1,0.35,0.5,0.75,1],"range":["#fdeedd","#fbd9b4","#ef9a60","#e5743a","#a9461f","#5b2010"]},"legend":null}}},
{"transform":[{"filter":"datum.col!='label'&&datum.row!='h1'&&datum.row!='h2'"}],"mark":{"type":"text","fontSize":12},"encoding":{"text":{"field":"txt"},"color":{"condition":{"test":"datum.lvl>=0.41","value":"#fff3e8"},"value":"#222"}}},
{"transform":[{"filter":"datum.row=='h1'||datum.row=='h2'"}],"mark":{"type":"text","fontSize":12.5,"fontWeight":"bold","color":"#111"},"encoding":{"text":{"field":"txt"}}},
{"transform":[{"filter":"datum.col=='label'"}],"mark":{"type":"text","fontSize":12.5,"fontWeight":"bold","align":"right","dx":-8},"encoding":{"x":{"field":"col","type":"nominal","bandPosition":1},"text":{"field":"txt"},"color":{"field":"txt","type":"nominal","scale":{"domain":["TEC_early","cTEC","mTEC"],"range":["#7fb0cc","#a6cf6b","#b283bf"]},"legend":null}}}
]},
{"data":{"values":[]},"mark":"text","width":63,"height":0},
{"width":343,"height":180,"view":{"stroke":"#666","strokeWidth":1.5},"data":{"name":"tB"},"encoding":{"x":{"field":"col","type":"nominal","scale":{"domain":["label","Total","Pos","Ex","Aire","MHC"],"paddingInner":0.03,"paddingOuter":0.378,"align":1},"axis":null},"y":{"field":"row","type":"nominal","scale":{"domain":["h1","h2","TEC(myo)","TEC(neuro)","cTEC","mTEC(I)","mTEC(II)","mTEC(III)","mTEC(IV)","mcTEC"],"paddingInner":0.06,"paddingOuter":0},"axis":null}},
"layer":[
{"transform":[{"filter":"indexof(['TEC(neuro)','mTEC(I)','mTEC(III)','mcTEC'],datum.row)>=0&&datum.col=='label'"}],"mark":{"type":"rect","color":"#ececec","xOffset":-37}},
{"transform":[{"filter":"indexof(['TEC(neuro)','mTEC(I)','mTEC(III)','mcTEC'],datum.row)>=0&&!isValid(datum.lvl)"}],"mark":{"type":"rect","color":"#ececec"}},
{"transform":[{"filter":"isValid(datum.lvl)"}],"mark":"rect","encoding":{"fill":{"field":"lvl","type":"quantitative","scale":{"domain":[0,0.1,0.35,0.5,0.75,1],"range":["#fdeedd","#fbd9b4","#ef9a60","#e5743a","#a9461f","#5b2010"]},"legend":null}}},
{"transform":[{"filter":"datum.col!='label'&&datum.row!='h1'&&datum.row!='h2'"}],"mark":{"type":"text","fontSize":12},"encoding":{"text":{"field":"txt"},"color":{"condition":{"test":"datum.lvl>=0.41","value":"#fff3e8"},"value":"#222"}}},
{"transform":[{"filter":"datum.row=='h1'||datum.row=='h2'"}],"mark":{"type":"text","fontSize":12.5,"fontWeight":"bold","color":"#111"},"encoding":{"text":{"field":"txt"}}},
{"transform":[{"filter":"datum.col=='label'"}],"mark":{"type":"text","fontSize":12.5,"fontWeight":"bold","align":"right","dx":-10},"encoding":{"x":{"field":"col","type":"nominal","bandPosition":1},"text":{"field":"txt"},"color":{"field":"txt","type":"nominal","scale":{"domain":["TEC(myo)","TEC(neuro)","cTEC","mTEC(I)","mTEC(II)","mTEC(III)","mTEC(IV)","mcTEC"],"range":["#e08a80","#7fb0d0","#a8d06f","#a97dbb","#f2b06d","#f5e98a","#b9b6d6","#f2cfe0"]},"legend":null}}}
]}
]},
{"data":{"values":[]},"mark":"text","width":0,"height":229},
{"bounds":"flush","spacing":0,"resolve":{"scale":{"color":"independent","fill":"independent"}},"hconcat":[
{"data":{"values":[]},"mark":"text","width":55,"height":0},
{"width":132,"height":164,"title":{"text":"c","anchor":"start","frame":"group","fontSize":15,"fontWeight":"bold","color":"#111","dx":-54,"dy":10},
"encoding":{"x":{"field":"x","type":"quantitative","scale":{"domain":[0.2,5.04]},"axis":{"values":[1,2.2,3.2,4.2],"labelExpr":"{1:'B cells',2.2:'mTEC',3.2:'cTEC',4.2:'TEC early'}[datum.value]","labelAngle":270,"labelAlign":"right","labelBaseline":"middle","title":null,"labelFontSize":12.5,"labelColor":"#222","labelOverlap":false,"labelPadding":4}},"y":{"field":"y","type":"quantitative","scale":{"domain":[-1,11.24]},"axis":{"values":[0,2,4,6,8],"format":".1f","domain":false,"title":"MHC-II score","titleX":-35,"titleY":96,"titleFontSize":12.5}}},
"layer":[
{"data":{"values":[{"x":1,"y":4,"g":"B cell subsets"},{"x":2.2,"y":3.35,"g":"TEC subsets"},{"x":3.2,"y":1.45,"g":"TEC subsets"},{"x":4.2,"y":0.3,"g":"TEC subsets"}]},"mark":{"type":"bar","width":22,"orient":"vertical"},"encoding":{"y":{"field":"y","type":"quantitative","stack":null},"color":{"field":"g","type":"nominal","scale":{"domain":["B cell subsets","TEC subsets"],"range":["#5b88c0","#ef9440"]},"legend":null}}},
{"data":{"values":[{}]},"mark":{"type":"rule","strokeDash":[1,3],"color":"#888"},"encoding":{"x":{"datum":0.2},"x2":{"datum":5.04},"y":{"datum":0}}},
{"data":{"values":[{}]},"mark":{"type":"rule","color":"#666"},"encoding":{"x":{"datum":0.2},"y":{"datum":-1},"y2":{"datum":8}}},
{"data":{"name":"sC"},"mark":{"type":"circle","size":24,"fill":"white","stroke":"#111","strokeWidth":1,"opacity":1}},
{"data":{"values":[{"id":1,"x":1,"y":6},{"id":1,"x":1,"y":7.33},{"id":1,"x":2.2,"y":7.33},{"id":1,"x":2.2,"y":6.65},{"id":2,"x":1,"y":8.4},{"id":2,"x":1,"y":8.9},{"id":2,"x":3.2,"y":8.9},{"id":2,"x":3.2,"y":5.55},{"id":3,"x":1,"y":9.2},{"id":3,"x":1,"y":10.4},{"id":3,"x":4.2,"y":10.4},{"id":3,"x":4.2,"y":4.3}]},"mark":{"type":"line","color":"#666","strokeWidth":1.3},"encoding":{"detail":{"field":"id"},"order":{"value":null}}},
{"data":{"values":[{"x":1.6,"y":7.85,"t":"****"},{"x":2.15,"y":9.45,"t":"****"},{"x":2.66,"y":10.95,"t":"****"}]},"mark":{"type":"text","fontSize":18,"color":"#222","dy":5},"encoding":{"text":{"field":"t"}}}
]},
{"data":{"values":[]},"mark":"text","width":90,"height":0},
{"width":361,"height":164,"title":{"text":"d","anchor":"start","frame":"group","fontSize":15,"fontWeight":"bold","color":"#111","dx":-49,"dy":10},
"encoding":{"x":{"field":"x","type":"quantitative","scale":{"domain":[0.194,13.41]},"axis":{"values":[1,2,3,4,5.58,6.58,7.58,8.58,9.58,10.58,11.58,12.58],"labelExpr":"{1:'B naive',2:'B memory',3:'B pro/pre',4:'B plasma',5.58:'mTEC(II)',6.58:'mTEC(III)',7.58:'mcTEC',8.58:'mTEC(IV)',9.58:'cTEC',10.58:'mTEC(I)',11.58:'TEC(neuro)',12.58:'TEC(myo)'}[datum.value]","labelAngle":270,"labelAlign":"right","labelBaseline":"middle","title":null,"labelFontSize":12.5,"labelColor":"#222","labelOverlap":false,"labelPadding":4}},"y":{"field":"y","type":"quantitative","scale":{"domain":[-1,8.425]},"axis":{"values":[0,2,4,6],"format":".1f","domain":false,"title":"MHC-II score","titleX":-30,"titleY":102,"titleFontSize":12.5}}},
"layer":[
{"data":{"values":[{"x":1,"y":3.85,"g":"B cell subsets"},{"x":2,"y":3.75,"g":"B cell subsets"},{"x":3,"y":1.95,"g":"B cell subsets"},{"x":4,"y":0.4,"g":"B cell subsets"},{"x":5.58,"y":3.2,"g":"TEC subsets"},{"x":6.58,"y":2.35,"g":"TEC subsets"},{"x":7.58,"y":1.7,"g":"TEC subsets"},{"x":8.58,"y":1.65,"g":"TEC subsets"},{"x":9.58,"y":0.95,"g":"TEC subsets"},{"x":10.58,"y":0.8,"g":"TEC subsets"},{"x":11.58,"y":0.45,"g":"TEC subsets"},{"x":12.58,"y":-0.1,"g":"TEC subsets"}]},"mark":{"type":"bar","width":22,"orient":"vertical"},"encoding":{"y":{"field":"y","type":"quantitative","stack":null},"color":{"field":"g","type":"nominal","title":null,"scale":{"domain":["B cell subsets","TEC subsets"],"range":["#5b88c0","#ef9440"]},"legend":{"orient":"none","legendX":332,"legendY":12,"symbolType":"square","symbolSize":169,"labelFontSize":12.5,"rowPadding":7,"labelOffset":8}}}},
{"data":{"values":[{}]},"mark":{"type":"rule","strokeDash":[1,3],"color":"#888"},"encoding":{"x":{"datum":0.194},"x2":{"datum":13.41},"y":{"datum":0}}},
{"data":{"values":[{}]},"mark":{"type":"rule","color":"#666"},"encoding":{"x":{"datum":0.194},"y":{"datum":-1},"y2":{"datum":6}}},
{"data":{"name":"sD"},"mark":{"type":"circle","size":24,"fill":"white","stroke":"#111","strokeWidth":1,"opacity":1}},
{"data":{"values":[{"x":4,"y":1.45},{"x":10.58,"y":2.05},{"x":11.58,"y":1.5}]},"mark":{"type":"tick","orient":"horizontal","size":11,"thickness":1,"color":"#222","opacity":1}},
{"data":{"values":[{"id":1,"x":1,"y":6},{"id":1,"x":1,"y":7.9},{"id":1,"x":5.58,"y":7.9},{"id":1,"x":5.58,"y":7},{"id":2,"x":2,"y":5.8},{"id":2,"x":2,"y":6.7},{"id":2,"x":5.58,"y":6.7},{"id":2,"x":5.58,"y":6.3}]},"mark":{"type":"line","color":"#666","strokeWidth":1.3},"encoding":{"detail":{"field":"id"},"order":{"value":null}}},
{"data":{"values":[{"x":3.3,"y":8.3,"t":"****"},{"x":3.78,"y":7.15,"t":"****"}]},"mark":{"type":"text","fontSize":18,"color":"#222","dy":5},"encoding":{"text":{"field":"t"}}}
]}
]},
{"data":{"values":[]},"mark":"text","width":0,"height":303},
{"bounds":"flush","spacing":0,"resolve":{"scale":{"color":"independent","fill":"independent"}},"hconcat":[
{"data":{"values":[]},"mark":"text","width":20,"height":0},
{"width":107,"height":108,"view":{"stroke":"#666","strokeWidth":1.5},"title":{"text":"e","anchor":"start","frame":"group","fontSize":15,"fontWeight":"bold","color":"#111","dx":-19,"dy":-5},
"encoding":{"x":{"field":"x","type":"quantitative","scale":{"domain":[2.04,6.41]},"axis":{"values":[2.53,4,5,6],"labelExpr":"{2.53:'0',4:'10⁴',5:'10⁵',6:'10⁶'}[datum.value]","title":"MHC-II PerCP","titleFontSize":12.5,"labelFontSize":9.5,"titlePadding":3,"tickSize":3,"labelPadding":2}},"y":{"field":"y","type":"quantitative","scale":{"domain":[0,2]},"axis":{"title":"Counts","labels":false,"ticks":false,"domain":false,"titleFontSize":12.5,"titlePadding":4}}},
"layer":[
{"data":{"values":[{"x":2.38,"y":1,"b":1},{"x":2.48,"y":1.09,"b":1},{"x":2.56,"y":1.26,"b":1},{"x":2.65,"y":1.29,"b":1},{"x":2.75,"y":1.24,"b":1},{"x":2.93,"y":1.24,"b":1},{"x":3.13,"y":1.34,"b":1},{"x":3.33,"y":1.49,"b":1},{"x":3.54,"y":1.55,"b":1},{"x":3.65,"y":1.72,"b":1},{"x":3.74,"y":1.75,"b":1},{"x":3.84,"y":1.86,"b":1},{"x":3.92,"y":1.74,"b":1},{"x":4.01,"y":1.69,"b":1},{"x":4.11,"y":1.72,"b":1},{"x":4.19,"y":1.66,"b":1},{"x":4.29,"y":1.53,"b":1},{"x":4.42,"y":1.38,"b":1},{"x":4.63,"y":1.22,"b":1},{"x":4.79,"y":1.09,"b":1},{"x":4.97,"y":1,"b":1}]},"mark":{"type":"area","fill":"#f7c9a0","stroke":"#efa566","strokeWidth":0.8},"encoding":{"y2":{"field":"b"}}},
{"data":{"values":[{}]},"mark":{"type":"rule","color":"#f5c49a"},"encoding":{"x":{"datum":2.04},"x2":{"datum":6.41},"y":{"datum":1}}},
{"data":{"values":[{"x":2.1,"y":0.005,"b":0},{"x":2.54,"y":0.03,"b":0},{"x":2.7,"y":0.005,"b":0},{"x":3.27,"y":0.01,"b":0},{"x":3.47,"y":0.05,"b":0},{"x":3.67,"y":0.16,"b":0},{"x":3.88,"y":0.31,"b":0},{"x":4.08,"y":0.53,"b":0},{"x":4.29,"y":0.81,"b":0},{"x":4.46,"y":0.92,"b":0},{"x":4.6,"y":0.81,"b":0},{"x":4.73,"y":0.66,"b":0},{"x":4.9,"y":0.37,"b":0},{"x":5.06,"y":0.16,"b":0},{"x":5.24,"y":0.01,"b":0},{"x":5.37,"y":0,"b":0}]},"mark":{"type":"area","fill":"#b9cce3","stroke":"#5b7fb5","strokeWidth":0.8},"encoding":{"y2":{"field":"b"}}}
]},
{"data":{"values":[]},"mark":"text","width":57,"height":0},
{"width":73,"height":110,
"encoding":{"x":{"field":"x","type":"quantitative","scale":{"domain":[0.38,2.67]},"axis":{"labels":false,"ticks":false,"title":null}},"y":{"field":"y","type":"quantitative","scale":{"domain":[0,10]},"axis":{"values":[0,2,4,6,8,10],"title":"MFI MHC-II PerCP [10⁴]","titleFontSize":12.5,"labelFontSize":10.5,"titlePadding":0}}},
"layer":[
{"data":{"values":[{"x":1,"y":0.65,"g":"TEC"},{"x":2,"y":4.15,"g":"Thymic B cells"}]},"mark":{"type":"bar","width":21,"orient":"vertical"},"encoding":{"y":{"field":"y","type":"quantitative","stack":null},"color":{"field":"g","type":"nominal","title":null,"scale":{"domain":["TEC","Thymic B cells"],"range":["#ef9440","#5b88c0"]},"legend":{"orient":"none","legendX":75,"legendY":-1,"symbolType":"square","symbolSize":100,"labelFontSize":12.5,"rowPadding":7,"labelOffset":6}}}},
{"data":{"values":[{"x":1,"y":0.65,"y2":1.6},{"x":2,"y":4.15,"y2":7.15}]},"mark":{"type":"rule","color":"#333"},"encoding":{"y2":{"field":"y2"}}},
{"data":{"values":[{"x":1,"y":1.6},{"x":2,"y":7.15}]},"mark":{"type":"tick","orient":"horizontal","size":11,"thickness":1,"color":"#333","opacity":1}},
{"data":{"values":[{"x":1,"y":3.12},{"x":0.75,"y":0.83},{"x":0.85,"y":0.98},{"x":1.27,"y":0.92},{"x":0.73,"y":0.37},{"x":0.88,"y":0.37},{"x":1.01,"y":0.28},{"x":1.15,"y":0.21},{"x":1.27,"y":0.37},{"x":1.12,"y":0.52},{"x":2,"y":9.77},{"x":2,"y":8.47},{"x":2,"y":7.61},{"x":1.94,"y":3.49},{"x":2.06,"y":3.12},{"x":2.04,"y":2.57},{"x":1.88,"y":2.42},{"x":1.78,"y":2.11},{"x":1.99,"y":2.2},{"x":2.13,"y":2.2},{"x":2.25,"y":1.9},{"x":1.75,"y":1.96}]},"mark":{"type":"circle","size":26,"fill":"white","stroke":"#222","strokeWidth":0.9,"opacity":1}},
{"data":{"values":[{"id":1,"x":1,"y":3.5},{"id":1,"x":1,"y":10.7},{"id":1,"x":2,"y":10.7},{"id":1,"x":2,"y":10.2}]},"mark":{"type":"line","color":"#444","strokeWidth":1},"encoding":{"detail":{"field":"id"},"order":{"value":null}}},
{"data":{"values":[{"x":1.5,"y":11.3,"t":"**"}]},"mark":{"type":"text","fontSize":18,"color":"#222","dy":5},"encoding":{"text":{"field":"t"}}}
]},
{"data":{"values":[]},"mark":"text","width":197,"height":0},
{"width":163,"height":108,"title":{"text":"f","anchor":"start","frame":"group","fontSize":15,"fontWeight":"bold","color":"#111","dx":-27,"dy":-5},
"encoding":{"x":{"field":"x","type":"quantitative","scale":{"domain":[0,10.19]},"axis":{"labels":false,"ticks":false,"title":null}},"y":{"field":"y","type":"quantitative","scale":{"type":"log","domain":[0.00001,1]},"axis":{"values":[1,0.1,0.01,0.001,0.0001,0.00001],"labelExpr":"'10'+['⁰','⁻¹','⁻²','⁻³','⁻⁴','⁻⁵'][round(-log(datum.value)/LN10)]","title":null,"labelFontSize":10.5}}},
"layer":[
{"data":{"values":[{"x":1,"y":0.0055,"g":"Wild-type"},{"x":4,"y":0.0055,"g":"db"},{"x":6.2,"y":0.0022,"g":"Wild-type"},{"x":8.2,"y":0.0006,"g":"dt"}]},"mark":{"type":"bar","width":13,"orient":"vertical"},"encoding":{"y":{"field":"y","type":"quantitative","stack":null},"color":{"field":"g","type":"nominal","scale":{"domain":["Wild-type","dt","db"],"range":["#adb1b1","#ef9440","#5b88c0"]},"legend":null}}},
{"data":{"values":[{"x":4,"y":0.0055,"y2":0.0112},{"x":6.2,"y":0.0022,"y2":0.0055},{"x":8.2,"y":0.0006,"y2":0.0011}]},"mark":{"type":"rule","color":"#333"},"encoding":{"y2":{"field":"y2"}}},
{"data":{"values":[{"x":1,"y":0.0091},{"x":1,"y":0.005},{"x":1,"y":0.0016},{"x":4,"y":0.0112},{"x":4,"y":0.00295},{"x":4,"y":0.00135},{"x":6.2,"y":0.006},{"x":6.2,"y":0.0035},{"x":6.2,"y":0.00085},{"x":6.2,"y":0.0005},{"x":6.2,"y":0.00015},{"x":8.2,"y":0.0011},{"x":7.8,"y":0.00068},{"x":8.6,"y":0.00047},{"x":8.2,"y":0.0002}]},"mark":{"type":"circle","size":26,"fill":"white","stroke":"#222","strokeWidth":0.9,"opacity":1}},
{"data":{"values":[{"x":1.88,"y":0.000043,"t":"n.d."},{"x":3.04,"y":0.000043,"t":"n.d."},{"x":7.2,"y":0.000043,"t":"n.d."},{"x":9.2,"y":0.000043,"t":"n.d."}]},"mark":{"type":"text","angle":270,"fontSize":12.5,"color":"#222"},"encoding":{"text":{"field":"t"}}},
{"data":{"values":[{"x":0.54,"x2":4.39,"y":0.00000316},{"x":5.79,"x2":9.69,"y":0.00000316}]},"mark":{"type":"rule","color":"#111","strokeWidth":1.1},"encoding":{"x2":{"field":"x2"}}},
{"data":{"values":[{"x":0.54,"y":0.00000316},{"x":5.79,"y":0.00000316}]},"mark":{"type":"point","shape":"triangle-left","filled":true,"size":30,"color":"#111","opacity":1}},
{"data":{"values":[{"x":4.39,"y":0.00000316},{"x":9.69,"y":0.00000316}]},"mark":{"type":"point","shape":"triangle-right","filled":true,"size":30,"color":"#111","opacity":1}},
{"data":{"values":[{"x":2.6,"y":0.00000107,"t":"EpCAM+"},{"x":7.83,"y":0.00000107,"t":"CD19+"}]},"mark":{"type":"text","fontSize":12.5,"color":"#222"},"encoding":{"text":{"field":"t"}}},
{"data":{"values":[{"x":-2.7,"y":0.00042,"t":"RQ"}]},"mark":{"type":"text","angle":270,"fontSize":12.5,"color":"#111"},"encoding":{"text":{"field":"t"}}},
{"data":{"values":[{"x":-2.7,"y":0.0148,"t":"Aqp4"}]},"mark":{"type":"text","angle":270,"fontSize":12.5,"fontStyle":"italic","color":"#111"},"encoding":{"text":{"field":"t"}}}
]},
{"width":150,"height":108,"data":{"values":[{"i":1,"name":"Wild-type","sup":""},{"i":2,"name":"Aqp4","sup":"−/−"},{"i":3,"name":"Aqp4","sup":"ΔTEC"},{"i":4,"name":"Aqp4","sup":"ΔB"}]},
"encoding":{"y":{"field":"i","type":"quantitative","scale":{"domain":[7.65,2.25]},"axis":null}},
"layer":[
{"mark":{"type":"square","size":110,"opacity":1},"encoding":{"x":{"datum":14.5,"type":"quantitative","scale":{"domain":[0,150]},"axis":null},"color":{"field":"i","type":"nominal","scale":{"domain":[1,2,3,4],"range":["#adb1b1","#7f8383","#ef9440","#5b88c0"]},"legend":null}}},
{"transform":[{"filter":"datum.i==1"}],"mark":{"type":"text","align":"left","fontSize":12.5,"color":"#222"},"encoding":{"x":{"datum":24.5,"type":"quantitative","axis":null},"text":{"field":"name"}}},
{"transform":[{"filter":"datum.i>1"}],"mark":{"type":"text","align":"left","fontSize":12.5,"fontStyle":"italic","color":"#222"},"encoding":{"x":{"datum":24.5,"type":"quantitative","axis":null},"text":{"field":"name"}}},
{"transform":[{"filter":"datum.i>1"}],"mark":{"type":"text","align":"left","fontSize":8,"color":"#222","dx":28,"dy":-4},"encoding":{"x":{"datum":24.5,"type":"quantitative","axis":null},"text":{"field":"sup"}}}
]}
]}
]}
